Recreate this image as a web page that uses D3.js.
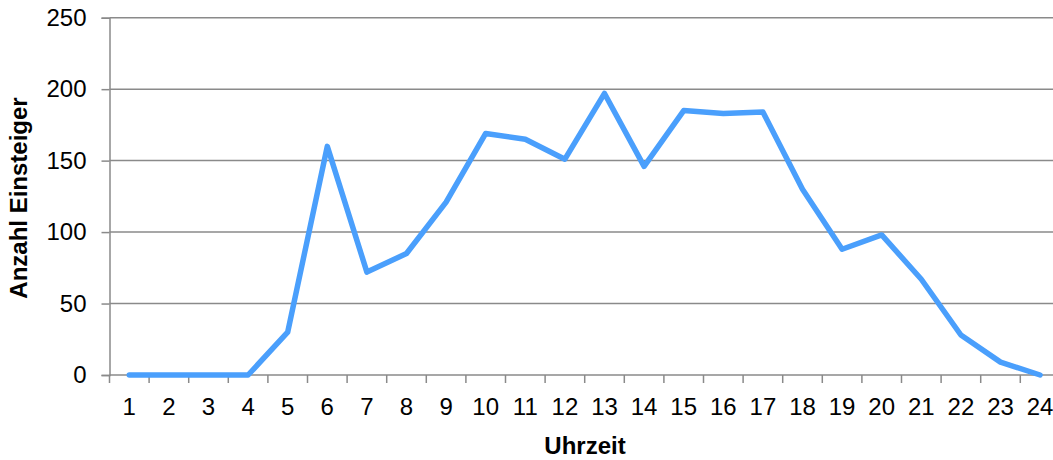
<!DOCTYPE html>
<html>
<head>
<meta charset="utf-8">
<script src="https://cdn.jsdelivr.net/npm/d3@7"></script>
<style>
	body { margin: 0; background: #fff; }
	svg { display: block; font-family: Arial, "Liberation Sans", sans-serif; }
</style>
</head>
<body>
<div id="chart"></div>
<script>
var hours = d3.range(1, 25).map(String);
var einsteiger = [0, 0, 0, 0, 30, 160, 72, 85, 121, 169, 165, 151, 197, 146, 185, 183, 184, 130, 88, 98, 67, 28, 9, 0];
var yTicks = [0, 50, 100, 150, 200, 250];

var width = 1053,
	height = 460,
	margin = { top: 17.7, left: 109.5, bottom: 85 },
	band = 39.6;

var svg = d3.select('#chart').append('svg')
	.attr('width', width)
	.attr('height', height);

var x = d3.scaleBand()
	.domain(hours)
	.range([margin.left, margin.left + band * hours.length]);

var y = d3.scaleLinear()
	.domain([0, 250])
	.range([375, margin.top]);

var axisColor = '#8a8a8a';

// gridlines
svg.append('g')
	.selectAll('line')
	.data(yTicks.slice(1))
	.enter().append('line')
	.attr('x1', margin.left)
	.attr('x2', width)
	.attr('y1', function(d) { return y(d); })
	.attr('y2', function(d) { return y(d); })
	.attr('stroke', axisColor)
	.attr('stroke-width', 1.5);

// y axis
var yAxis = svg.append('g')
	.attr('transform', 'translate(' + margin.left + ',0)')
	.call(d3.axisLeft(y).tickValues(yTicks).tickSize(8).tickPadding(15));
yAxis.select('.domain').attr('stroke', axisColor).attr('stroke-width', 1.5);
yAxis.selectAll('.tick line').attr('stroke', axisColor).attr('stroke-width', 1.5);
yAxis.selectAll('.tick text')
	.attr('fill', '#000')
	.style('font-size', '24px')
	.style('font-family', 'Arial, "Liberation Sans", sans-serif');

// x axis, ticks between categories
var xAxis = svg.append('g')
	.attr('transform', 'translate(0,' + y(0) + ')');
xAxis.append('line')
	.attr('x1', margin.left)
	.attr('x2', width)
	.attr('stroke', axisColor)
	.attr('stroke-width', 1.5);
xAxis.selectAll('.sep')
	.data(d3.range(hours.length + 1))
	.enter().append('line')
	.attr('class', 'sep')
	.attr('x1', function(i) { return margin.left + i * x.step(); })
	.attr('x2', function(i) { return margin.left + i * x.step(); })
	.attr('y1', 0)
	.attr('y2', 8)
	.attr('stroke', axisColor)
	.attr('stroke-width', 1.5);
xAxis.selectAll('.lbl')
	.data(hours)
	.enter().append('text')
	.attr('class', 'lbl')
	.attr('x', function(d) { return x(d) + x.bandwidth() / 2; })
	.attr('y', 40)
	.attr('text-anchor', 'middle')
	.style('font-size', '24px')
	.text(function(d) { return d; });

// axis titles
svg.append('text')
	.attr('x', 585)
	.attr('y', 454)
	.attr('text-anchor', 'middle')
	.style('font-size', '24px')
	.style('font-weight', 'bold')
	.text('Uhrzeit');

svg.append('text')
	.attr('transform', 'translate(27,198) rotate(-90)')
	.attr('text-anchor', 'middle')
	.style('font-size', '24px')
	.style('font-weight', 'bold')
	.text('Anzahl Einsteiger');

// line
var line = d3.line()
	.x(function(d, i) { return x(hours[i]) + x.bandwidth() / 2; })
	.y(function(d) { return y(d); });

svg.append('path')
	.datum(einsteiger)
	.attr('d', line)
	.attr('fill', 'none')
	.attr('stroke', '#4a9ffc')
	.attr('stroke-width', 5.5)
	.attr('stroke-linejoin', 'round')
	.attr('stroke-linecap', 'round');
</script>
</body>
</html>
